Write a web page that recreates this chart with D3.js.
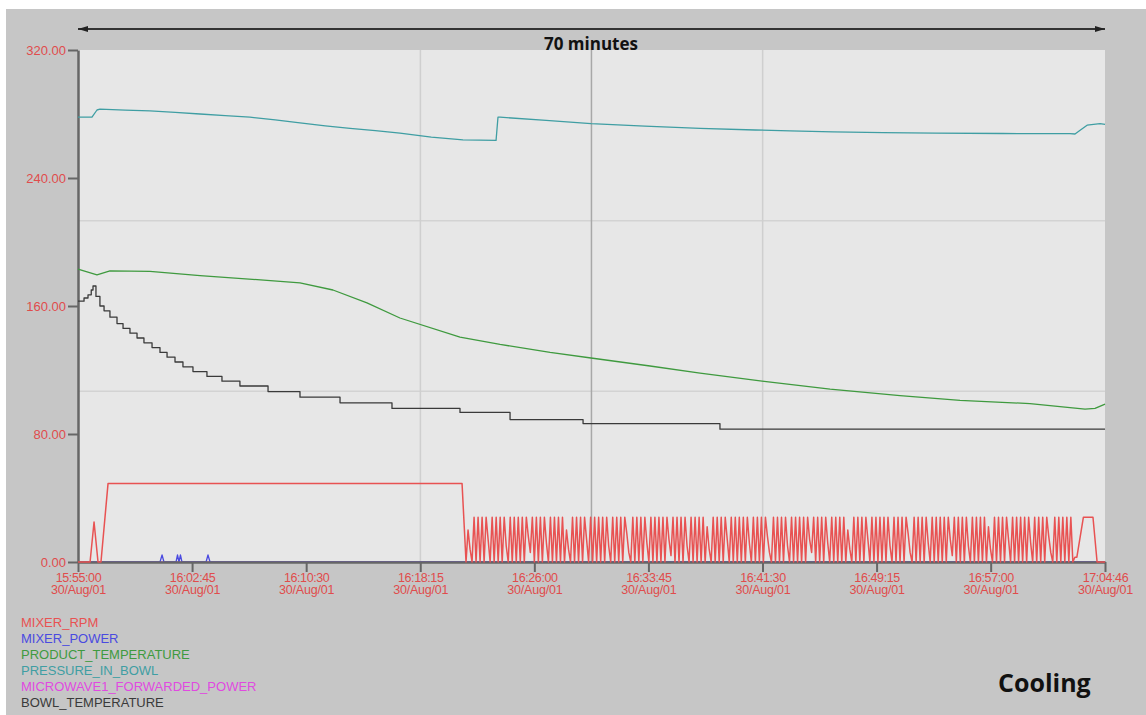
<!DOCTYPE html>
<html>
<head>
<meta charset="utf-8">
<script src="https://cdn.jsdelivr.net/npm/d3@7"></script>
<style>
body { margin: 0; background: #fff; }
text { font-family: "Liberation Sans", Arial, sans-serif; }
</style>
</head>
<body>
<div id="chart"></div>
<script>
// all x values are minutes after 15:55:00
var xTickLabels = ["15:55:00", "16:02:45", "16:10:30", "16:18:15", "16:26:00", "16:33:45", "16:41:30", "16:49:15", "16:57:00", "17:04:46"];
var dateLabel = "30/Aug/01";
var yTicks = [0, 80, 160, 240, 320];
var gridMinutes = [23.26, 34.88, 46.51];
var gridValues = [106.67, 213.33];
var spanLabel = "70 minutes";
var stageLabel = "Cooling";

var legendNames = ["MIXER_RPM", "MIXER_POWER", "PRODUCT_TEMPERATURE", "PRESSURE_IN_BOWL", "MICROWAVE1_FORWARDED_POWER", "BOWL_TEMPERATURE"];
var legendColors = ["#e85252", "#4a4ae0", "#3f9a3f", "#3f9ea3", "#e04ae0", "#3a3a3a"];

var pressureInBowl = [[0, 278], [0.95, 278], [1.29, 282.5], [1.49, 283], [3.2, 282.4], [4.89, 281.9], [6.6, 281], [8.29, 280],
  [10, 279], [11.68, 278], [13.4, 276.3], [15.08, 274.5], [16.8, 272.6], [18.48, 271], [20.2, 269.6], [21.87, 268],
  [24, 265.6], [26.15, 263.8], [28.4, 263.5], [28.53, 278], [28.67, 278], [31.8, 276], [34.85, 274], [38.5, 272.4],
  [42.26, 271], [46, 270], [48.37, 269.5], [51.29, 268.8], [54.7, 268.3], [58.22, 268], [62.8, 267.8], [67.39, 267.7],
  [67.73, 267.5], [68.1, 270], [68.55, 273], [69.43, 274], [69.77, 273.5]];

var productTemperature = [[0, 183], [1.29, 179.5], [2.17, 181.9], [4.89, 181.7], [8.29, 179], [12.84, 176], [15.08, 174.4],
  [17.32, 170], [19.63, 162], [21.87, 152.5], [25.95, 140.6], [28.67, 136], [32.07, 131], [34.85, 127.5], [38.86, 122.5],
  [42.26, 118], [46.47, 113], [51.09, 108], [55.84, 104], [59.92, 101], [64.67, 99], [68.41, 95.6], [69.09, 96], [69.77, 98.7]];

// stair steps: [start minute, level]
var bowlTemperature = [[0, 163], [0.41, 165], [0.68, 167], [0.9, 170], [1.02, 172.5], [1.22, 166], [1.49, 160], [1.77, 157],
  [2.17, 153], [2.65, 149], [3.06, 146], [3.53, 143], [4.01, 140], [4.48, 137], [5.03, 134], [5.57, 131], [6.05, 128],
  [6.59, 125], [7.13, 122], [7.81, 119], [8.76, 116], [9.78, 113], [11.0, 110], [12.91, 106.5], [15.08, 103], [17.8, 99.5],
  [21.33, 96], [25.95, 93.5], [29.35, 89], [34.31, 86.5], [43.61, 83], [69.77, 83]];

var mixerPower = [[0, 0], [5.57, 0], [5.71, 4.4], [5.84, 0], [6.66, 0], [6.76, 4.4], [6.86, 0], [6.96, 4.4], [7.06, 0],
  [8.7, 0], [8.83, 4.4], [8.97, 0], [69.77, 0]];
var microwavePower = [[0, 0], [69.77, 0]];

var rpmStart = [[0, 0], [0.82, 0], [1.09, 25], [1.36, 0], [1.56, 0], [2.04, 49], [26.09, 49], [26.36, 0]];
// on/off cycling, one sample every rpmStep minutes from rpmCycleStart
var rpmCycleStart = 26.36, rpmStep = 0.1365;
var rpmCycle = [
  0, 20, 8, 0, 28, 0, 28, 0, 28, 0, 28, 14,
  0, 28, 0, 28, 0, 28, 0, 28, 10,
  0, 28, 0, 28, 0, 28, 0, 28, 0, 28, 16,
  6, 28, 0, 28, 0, 28, 0, 28, 12,
  0, 28, 0, 28, 0, 28, 0, 28, 0, 20, 8,
  0, 28, 0, 28, 0, 28, 0, 28, 14,
  0, 28, 0, 28, 0, 28, 0, 28, 0, 28, 10,
  0, 28, 0, 28, 0, 28, 0, 28, 18, 6,
  0, 28, 0, 28, 0, 28, 0, 28, 12,
  0, 28, 0, 28, 0, 28, 0, 28, 0, 28, 14,
  4, 28, 0, 28, 0, 28, 0, 28, 10,
  0, 28, 0, 28, 0, 28, 0, 28, 0, 22, 8,
  0, 28, 0, 28, 0, 28, 0, 28, 14,
  0, 28, 0, 28, 0, 28, 0, 28, 0, 28, 12,
  0, 28, 0, 28, 0, 28, 0, 28, 16, 6,
  0, 28, 0, 28, 0, 28, 0, 28, 10,
  0, 28, 0, 28, 0, 28, 0, 28, 0, 28, 14,
  6, 28, 0, 28, 0, 28, 0, 28, 12,
  0, 28, 0, 28, 0, 28, 0, 28, 0, 20, 8,
  0, 28, 0, 28, 0, 28, 0, 28, 14,
  0, 28, 0, 28, 0, 28, 0, 28, 0, 28, 10,
  0, 28, 0, 28, 0, 28, 0, 28, 18, 6,
  0, 28, 0, 28, 0, 28, 0, 28, 12,
  0, 28, 0, 28, 0, 28, 0, 28, 0, 28, 14,
  4, 28, 0, 28, 0, 28, 0, 28, 10,
  0, 28, 0, 28, 0, 28, 0, 28, 0, 22, 8,
  0, 28, 0, 28, 0, 28, 0, 28, 14,
  0, 28, 0, 28, 0, 28, 0, 28, 0, 28, 12,
  0, 28, 0, 28, 0, 28, 0, 28, 16, 6,
  0, 28, 0, 28, 0, 28, 0, 28, 0, 28, 0, 3, 3
];
var rpmEnd = [[68.3, 28], [68.95, 28], [69.23, 0], [69.77, 0]];

function toMinutes(s) {
  var p = s.split(":");
  return (+p[0] * 60 + +p[1] + +p[2] / 60) - (15 * 60 + 55);
}

var W = 1146, H = 715;
var plotLeft = 78, plotRight = 1105, plotTop = 50, plotBottom = 562;

var svg = d3.select("#chart").append("svg")
  .attr("width", W)
  .attr("height", H);

var x = d3.scaleLinear()
  .domain([0, toMinutes(xTickLabels[xTickLabels.length - 1])])
  .range([plotLeft, plotRight]);
var y = d3.scaleLinear()
  .domain([0, 320])
  .range([plotBottom, plotTop]);

// window background + plot panel
svg.append("rect").attr("x", 6).attr("y", 9).attr("width", W - 6).attr("height", H - 9).attr("fill", "#c6c6c6");
svg.append("rect").attr("x", plotLeft).attr("y", plotTop).attr("width", plotRight - plotLeft).attr("height", plotBottom - plotTop).attr("fill", "#e7e7e7");

// grid
svg.append("g").selectAll("line")
  .data(gridValues).enter().append("line")
    .attr("x1", plotLeft).attr("x2", plotRight)
    .attr("y1", function(d) { return y(d); }).attr("y2", function(d) { return y(d); })
    .attr("stroke", "#d3d3d3").attr("stroke-width", 1.5);
svg.append("g").selectAll("line")
  .data(gridMinutes).enter().append("line")
    .attr("x1", function(d) { return x(d); }).attr("x2", function(d) { return x(d); })
    .attr("y1", plotTop).attr("y2", plotBottom)
    .attr("stroke", function(d, i) { return i == 1 ? "#a8a8a8" : "#cfcfcf"; })
    .attr("stroke-width", 1.5);

var line = d3.line()
  .x(function(d) { return x(d[0]); })
  .y(function(d) { return y(d[1]); });

function drawSeries(data, color, curve, width) {
  svg.append("path")
    .datum(data)
    .attr("fill", "none")
    .attr("stroke", color)
    .attr("stroke-width", width || 1.3)
    .attr("stroke-linejoin", "round")
    .attr("d", line.curve(curve || d3.curveLinear));
}

// series that sit on the zero line go under the axis
drawSeries(microwavePower, legendColors[4]);
drawSeries(mixerPower, legendColors[1]);

// axes
var yAxis = svg.append("g")
  .attr("transform", "translate(" + plotLeft + ",0)")
  .call(d3.axisLeft(y).tickValues(yTicks).tickSize(10).tickSizeOuter(0).tickFormat(d3.format(".2f")));
yAxis.select(".domain").attr("stroke", "#666").attr("stroke-width", 2.5);
yAxis.selectAll(".tick line").attr("stroke", "#666").attr("stroke-width", 2);
yAxis.selectAll(".tick text")
  .attr("fill", "#e04c4c")
  .style("font-size", "13px")
  .attr("x", -12);

var xTicks = xTickLabels.map(toMinutes);
var xAxis = svg.append("g")
  .attr("transform", "translate(0," + plotBottom + ")")
  .call(d3.axisBottom(x).tickValues(xTicks).tickSize(10).tickSizeOuter(0).tickFormat(""));
xAxis.select(".domain").attr("stroke", "#666").attr("stroke-width", 2.5);
xAxis.selectAll(".tick line").attr("stroke", "#666").attr("stroke-width", 2);
var xt = xAxis.selectAll(".tick").append("text")
  .attr("fill", "#e04c4c")
  .attr("text-anchor", "middle")
  .style("font-size", "12.5px");
xt.append("tspan").attr("x", 0).attr("y", 20).style("letter-spacing", "-0.4px")
  .text(function(d, i) { return xTickLabels[i]; });
xt.append("tspan").attr("x", 0).attr("y", 32).style("letter-spacing", "-0.2px")
  .text(dateLabel);

// the data lines
drawSeries(pressureInBowl, legendColors[3]);
drawSeries(productTemperature, legendColors[2]);
drawSeries(bowlTemperature, legendColors[5], d3.curveStepAfter);

var rpm = rpmStart
  .concat(rpmCycle.map(function(v, i) { return [rpmCycleStart + i * rpmStep, v]; }))
  .concat(rpmEnd);
drawSeries(rpm, legendColors[0], d3.curveLinear, 1.5);

// span arrow on top
var defs = svg.append("defs");
["start", "end"].forEach(function(k) {
  defs.append("marker")
    .attr("id", "arr-" + k)
    .attr("viewBox", "0 0 10 6")
    .attr("refX", k == "end" ? 10 : 0).attr("refY", 3)
    .attr("markerWidth", 10).attr("markerHeight", 6)
    .attr("markerUnits", "userSpaceOnUse")
    .attr("orient", "auto")
    .append("path")
      .attr("d", k == "end" ? "M0,0L10,3L0,6Z" : "M10,0L0,3L10,6Z")
      .attr("fill", "#222");
});
svg.append("line")
  .attr("x1", x.range()[0]).attr("x2", x.range()[1])
  .attr("y1", 29).attr("y2", 29)
  .attr("stroke", "#333").attr("stroke-width", 2)
  .attr("marker-start", "url(#arr-start)")
  .attr("marker-end", "url(#arr-end)");
svg.append("text")
  .attr("x", 591).attr("y", 50)
  .attr("text-anchor", "middle")
  .style("font-family", "'Open Sans', sans-serif")
  .style("font-weight", "bold")
  .style("font-size", "17px")
  .attr("fill", "#111")
  .text(spanLabel);

// legend
svg.append("g").selectAll("text")
  .data(legendNames).enter().append("text")
    .attr("x", 21)
    .attr("y", function(d, i) { return 627 + i * 16; })
    .attr("fill", function(d, i) { return legendColors[i]; })
    .style("font-size", "13px")
    .text(function(d) { return d; });

svg.append("text")
  .attr("x", 998).attr("y", 692)
  .style("font-family", "'Open Sans', sans-serif")
  .style("font-weight", "bold")
  .style("font-size", "25px")
  .attr("fill", "#111")
  .text(stageLabel);
</script>
</body>
</html>
